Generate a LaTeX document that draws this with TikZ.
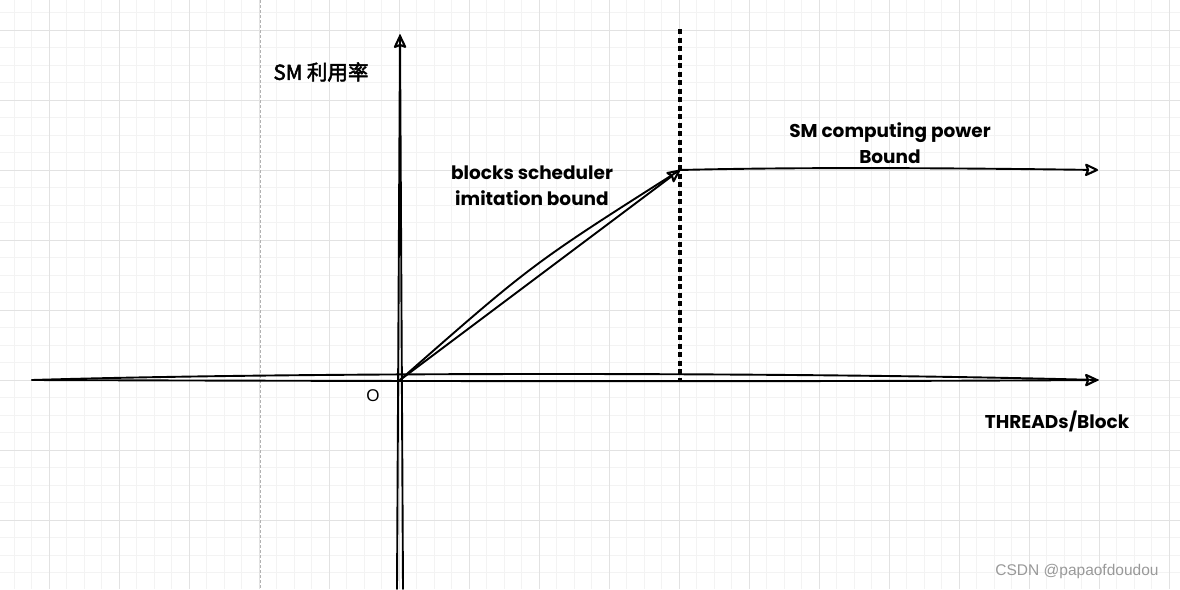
\documentclass[tikz,border=0pt]{standalone}
\usepackage{fontspec}
\setmainfont{Liberation Sans}
\newfontfamily\hand{Poppins}
\newfontfamily\cjk{Noto Sans CJK SC}[FakeBold=2.5]
\usetikzlibrary{arrows.meta}
\definecolor{gminor}{HTML}{F3F3F3}
\definecolor{gmajor}{HTML}{E2E2E2}
\begin{document}
\begin{tikzpicture}[x=1pt,y=-1pt,
  sk/.style={line width=1.9pt, black, line cap=round},
  tip/.style={-{Stealth[open,length=15pt,width=14pt,inset=2.5pt,line width=2.1pt,round]}},
  dsh/.style={line width=2pt, black, dash pattern=on 5pt off 3.5pt},
  lbl/.style={font=\hand\bfseries\fontsize{18.5}{26}\selectfont, align=center, inner sep=0pt},
  ]
\useasboundingbox (0,0) rectangle (1180,589);
\fill[white] (0,0) rectangle (1180,589);
% grid
\foreach \i in {0,...,68} {\draw[gminor, line width=0.8pt] ({14+17.5*\i},0) -- ({14+17.5*\i},589);}
\foreach \i in {0,...,34} {\draw[gminor, line width=0.8pt] (0,{-5+17.5*\i}) -- (1180,{-5+17.5*\i});}
\foreach \i in {0,...,16} {\draw[gmajor, line width=1pt] ({49+70*\i},0) -- ({49+70*\i},589);}
\foreach \i in {0,...,8} {\draw[gmajor, line width=1pt] (0,{30+70*\i}) -- (1180,{30+70*\i});}
\draw[gray!60, line width=0.8pt, dash pattern=on 3pt off 2pt] (260,0) -- (260,589);

% coordinates
\coordinate (O) at (400,380);
\coordinate (xs) at (32,380);
\coordinate (xe) at (1098,380);
\coordinate (yt) at (400,35);
\coordinate (yb1) at (397,589);
\coordinate (yb2) at (403,589);
\coordinate (knee) at (680,170);
\coordinate (he) at (1098,170);
\coordinate (dt) at (680,29);
\coordinate (db) at (680,380);

% horizontal axis (double sketch stroke)
\draw[sk] (xs) .. controls (300,372) and (800,372) .. (xe);
\draw[sk,tip] (xs) .. controls (300,381) and (800,382) .. (xe);
% vertical axis
\draw[sk] (yb1) -- (yt);
\draw[sk,tip] (yb2) -- (yt);
% diagonal
\draw[sk] (O) .. controls (532,264) .. (knee);
\draw[sk,tip] (O) -- (knee);
% dashed bound
\draw[dsh] ([xshift=-0.9pt]dt) -- ([xshift=-0.9pt]db);
\draw[dsh] ([xshift=1.2pt]dt) -- ([xshift=1.2pt]db);
% SM bound line
\draw[sk,tip] (knee) .. controls (800,167) and (950,168) .. (he);

% labels
\node[inner sep=0pt, font=\cjk\fontsize{20.5}{22}\selectfont] (ylab) at (321,72) {SM 利用率};
\node[inner sep=0pt, font=\fontsize{17}{20}\selectfont] (olab) at (373,396) {O};
\node[lbl] (blab) at (532,186) {blocks scheduler\\imitation bound};
\node[lbl] (slab) at (890,143) {SM computing power\\Bound};
\node[lbl] (xlab) at (1057,421) {THREADs/Block};
\node[inner sep=0pt, text=gray!80, font=\fontsize{15.5}{18}\selectfont] (wm) at (1077,571) {CSDN @papaofdoudou};
\end{tikzpicture}
\end{document}
